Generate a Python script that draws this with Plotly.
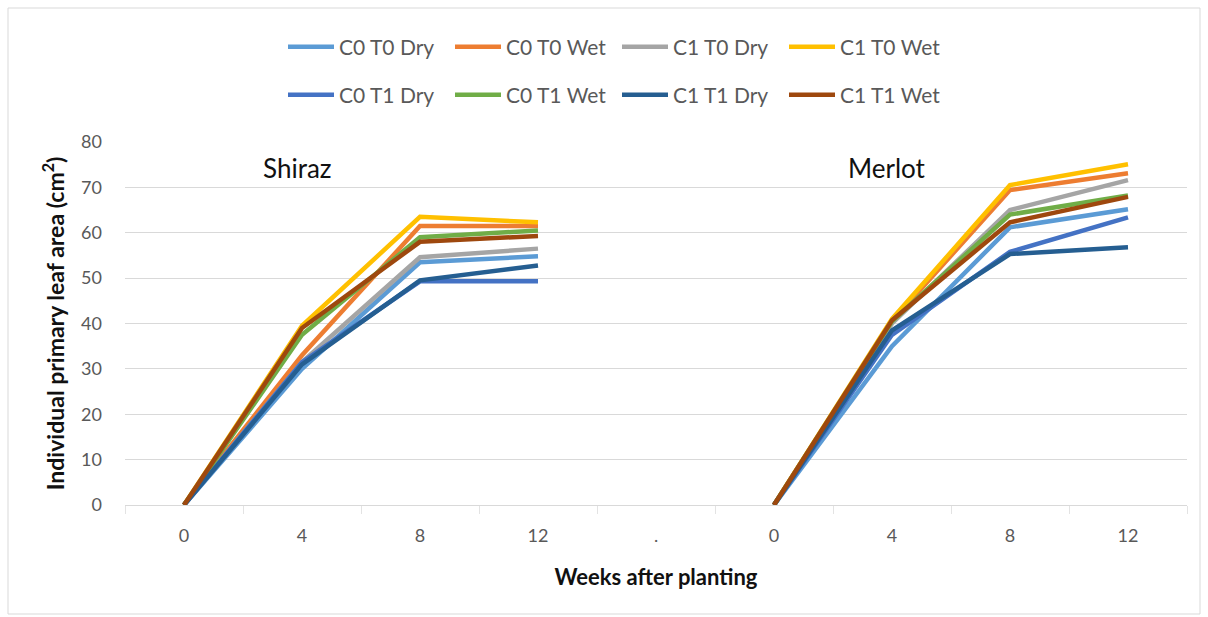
import plotly.graph_objects as go

# Week categories for each cultivar, separated by a spacer category
weeks = ["0", "4", "8", "12"]
x_labels = weeks + ["."] + weeks

series_names = ["C0 T0 Dry", "C0 T0 Wet", "C1 T0 Dry", "C1 T0 Wet",
                "C0 T1 Dry", "C0 T1 Wet", "C1 T1 Dry", "C1 T1 Wet"]
colors = ["#5B9BD5", "#ED7D31", "#A5A5A5", "#FFC000",
          "#4472C4", "#70AD47", "#255E91", "#9E480E"]

# Individual primary leaf area (cm2) at 0, 4, 8, 12 weeks
shiraz = {
    "C0 T0 Dry": [0, 30.0, 53.5, 54.8],
    "C0 T0 Wet": [0, 33.0, 61.5, 61.5],
    "C1 T0 Dry": [0, 31.5, 54.6, 56.5],
    "C1 T0 Wet": [0, 39.5, 63.5, 62.3],
    "C0 T1 Dry": [0, 31.5, 49.3, 49.3],
    "C0 T1 Wet": [0, 37.5, 59.0, 60.5],
    "C1 T1 Dry": [0, 31.0, 49.5, 52.8],
    "C1 T1 Wet": [0, 39.0, 58.0, 59.3],
}
merlot = {
    "C0 T0 Dry": [0, 35.0, 61.2, 65.2],
    "C0 T0 Wet": [0, 40.5, 69.4, 73.1],
    "C1 T0 Dry": [0, 40.0, 65.0, 71.6],
    "C1 T0 Wet": [0, 41.0, 70.5, 75.1],
    "C0 T1 Dry": [0, 37.5, 55.8, 63.4],
    "C0 T1 Wet": [0, 40.5, 64.0, 68.2],
    "C1 T1 Dry": [0, 38.5, 55.3, 56.8],
    "C1 T1 Wet": [0, 40.7, 62.3, 67.9],
}

y_ticks = [0, 10, 20, 30, 40, 50, 60, 70, 80]

FONT = "Lato, Open Sans, sans-serif"
TEXT = "#595959"

x_pos = list(range(len(x_labels)))

fig = go.Figure()
for i, (name, color) in enumerate(zip(series_names, colors)):
    y = shiraz[name] + [None] + merlot[name]
    fig.add_trace(go.Scatter(
        x=x_pos, y=y, name=name, mode="lines",
        line=dict(color=color, width=4.5),
        connectgaps=False,
        legend="legend" if i < 4 else "legend2",
    ))

# plot area in pixels: left 125, right 1187, top 142, bottom 505
L, R, T, B = 125, 1187, 142, 505
W, H = R - L, B - T


def px_x(p):
    return (p - L) / W


def px_y(p):
    return (B - p) / H


legend_common = dict(
    orientation="h", xanchor="center", yanchor="middle",
    font=dict(family=FONT, size=21, color=TEXT),
    itemwidth=46, bgcolor="rgba(0,0,0,0)", traceorder="normal",
    entrywidth=106,
)

fig.update_layout(
    width=1208, height=617,
    margin=dict(l=L, r=1208 - R, t=T, b=617 - B),
    paper_bgcolor="white", plot_bgcolor="white",
    font=dict(family=FONT, color=TEXT),
    legend=dict(x=px_x(617), y=px_y(47), **legend_common),
    legend2=dict(x=px_x(617), y=px_y(95), **legend_common),
    xaxis=dict(
        range=[-0.5, len(x_labels) - 0.5],
        tickmode="array", tickvals=x_pos, ticktext=x_labels,
        ticks="", showgrid=False, zeroline=False,
        showline=True, linecolor="#d9d9d9", linewidth=1,
        tickfont=dict(family=FONT, size=18, color=TEXT),
        ticklabelstandoff=14,
        minor=dict(tickvals=[k - 0.5 for k in range(len(x_labels) + 1)],
                   ticks="outside", ticklen=8, tickcolor="#e3e3e3",
                   showgrid=False),
        title=dict(text="<b>Weeks after planting</b>",
                   font=dict(family=FONT, size=22, color="#111111"),
                   standoff=25),
    ),
    yaxis=dict(
        range=[0, 80], tickmode="array", tickvals=y_ticks,
        showgrid=True, gridcolor="#d9d9d9", gridwidth=1,
        zeroline=False, showline=False, ticks="",
        tickfont=dict(family=FONT, size=18, color=TEXT),
        ticklabelstandoff=22,
        title=dict(text="<b>Individual primary leaf area (cm<sup>2</sup>)</b>",
                   font=dict(family=FONT, size=23, color="#111111"),
                   standoff=10),
    ),
    annotations=[
        dict(text="Shiraz", x=px_x(297), y=px_y(168), xref="paper", yref="paper",
             xanchor="center", yanchor="middle", showarrow=False,
             font=dict(family=FONT, size=26, color="#111111")),
        dict(text="Merlot", x=px_x(887), y=px_y(168), xref="paper", yref="paper",
             xanchor="center", yanchor="middle", showarrow=False,
             font=dict(family=FONT, size=26, color="#111111")),
    ],
    shapes=[
        dict(type="rect", xref="paper", yref="paper",
             x0=px_x(8), x1=px_x(1200), y0=px_y(614), y1=px_y(8),
             line=dict(color="#d9d9d9", width=1), layer="below"),
    ],
)

fig.write_html("out.html")
